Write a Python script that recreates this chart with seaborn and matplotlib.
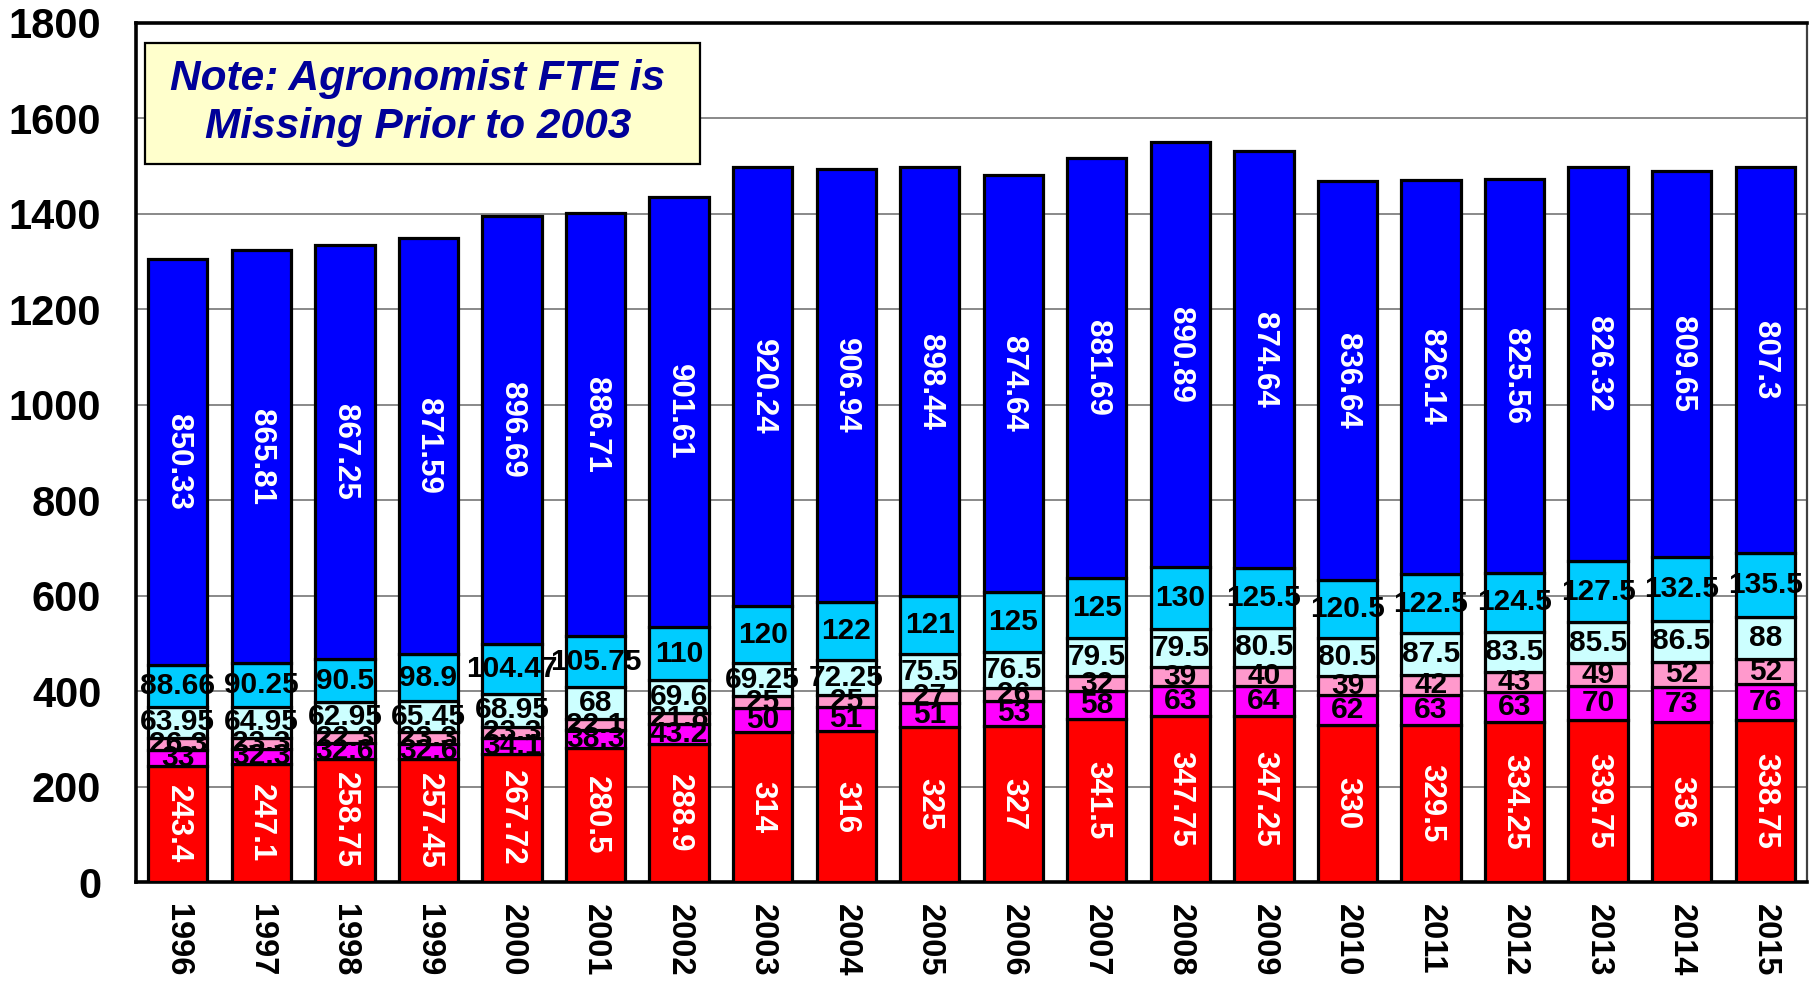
import numpy as np
import pandas as pd
import matplotlib
matplotlib.use("Agg")
import matplotlib.pyplot as plt
from matplotlib.patches import Rectangle
import seaborn as sns

# Yearly FTE by staff category (stack order: bottom to top)
years = ["1996", "1997", "1998", "1999", "2000", "2001", "2002", "2003", "2004", "2005",
         "2006", "2007", "2008", "2009", "2010", "2011", "2012", "2013", "2014", "2015"]
seg_red = [243.4, 247.1, 258.75, 257.45, 267.72, 280.5, 288.9, 314, 316, 325,
           327, 341.5, 347.75, 347.25, 330, 329.5, 334.25, 339.75, 336, 338.75]
seg_magenta = [33, 32.3, 32.6, 32.6, 34.1, 38.3, 43.2, 50, 51, 51,
               53, 58, 63, 64, 62, 63, 63, 70, 73, 76]
seg_pink = [26.3, 23.3, 22.3, 23.3, 23.3, 22.1, 21.8, 25, 25, 27,
            26, 32, 39, 40, 39, 42, 43, 49, 52, 52]
seg_lightcyan = [63.95, 64.95, 62.95, 65.45, 68.95, 68, 69.6, 69.25, 72.25, 75.5,
                 76.5, 79.5, 79.5, 80.5, 80.5, 87.5, 83.5, 85.5, 86.5, 88]
seg_cyan = [88.66, 90.25, 90.5, 98.9, 104.47, 105.75, 110, 120, 122, 121,
            125, 125, 130, 125.5, 120.5, 122.5, 124.5, 127.5, 132.5, 135.5]
seg_blue = [850.33, 865.81, 867.25, 871.59, 896.69, 886.71, 901.61, 920.24, 906.94, 898.44,
            874.64, 881.69, 890.89, 874.64, 836.64, 826.14, 825.56, 826.32, 809.65, 807.3]

y_ticks = [0, 200, 400, 600, 800, 1000, 1200, 1400, 1600, 1800]
note_text = "Note: Agronomist FTE is\nMissing Prior to 2003"

series = [
    (seg_red, "#FF0000", "white", -90),
    (seg_magenta, "#FF00FF", "black", 0),
    (seg_pink, "#FF99CC", "black", 0),
    (seg_lightcyan, "#CCFFFF", "black", 0),
    (seg_cyan, "#00CCFF", "black", 0),
    (seg_blue, "#0000FF", "white", -90),
]

sns.set_theme(style="white")
plt.rcParams["font.family"] = ["Liberation Sans", "DejaVu Sans"]
plt.rcParams["font.weight"] = "bold"
plt.rcParams["text.color"] = "black"
plt.rcParams["xtick.color"] = "black"
plt.rcParams["ytick.color"] = "black"

fig = plt.figure(figsize=(18.19, 9.81), dpi=100)
ax = fig.add_axes([136 / 1819, 1 - 882 / 981, (1807 - 136) / 1819, (882 - 23) / 981])

x_pos = np.arange(len(years))
bottom = np.zeros(len(years))
for values, color, txt_color, rot in series:
    vals = np.array(values, dtype=float)
    df = pd.DataFrame({"year": years, "fte": vals})
    sns.barplot(data=df, x="year", y="fte", order=years, bottom=bottom,
                color=color, saturation=1, width=0.71, edgecolor="black",
                linewidth=2.3, ax=ax, zorder=3)
    for i, v in enumerate(vals):
        label = f"{v:g}"
        cy = bottom[i] + v / 2
        if rot:
            ax.text(x_pos[i], cy, label, color=txt_color, rotation=rot,
                    ha="center", va="center", fontsize=22.5, fontweight="bold",
                    zorder=5, rotation_mode="anchor")
        else:
            ax.text(x_pos[i], cy, label, color=txt_color, ha="center",
                    va="center", fontsize=21.5, fontweight="bold", zorder=5)
    bottom = bottom + vals

ax.set_xlim(-0.5, len(years) - 0.5)
ax.set_ylim(0, 1800)
ax.set_yticks(y_ticks)
ax.set_yticklabels([str(t) for t in y_ticks], fontsize=30, fontweight="bold",
                   color="black")
ax.tick_params(axis="y", length=0, pad=25)

ax.set_xticks(x_pos)
ax.set_xticklabels(years, rotation=-90, fontsize=23.5, fontweight="bold",
                   color="black")
ax.tick_params(axis="x", which="major", direction="in", length=6.5, width=1,
               color="#404040", pad=16)
ax.set_xticks(np.arange(-0.5, len(years), 1.0), minor=True)
ax.tick_params(axis="x", which="minor", direction="out", length=7, width=1,
               color="#404040")
for lbl in ax.get_xticklabels():
    lbl.set_va("top")
    lbl.set_ha("center")

ax.set_xlabel("")
ax.set_ylabel("")
ax.grid(axis="y", color="#808080", linewidth=1.3, zorder=0)
ax.grid(axis="x", visible=False)
ax.set_axisbelow(True)

for side in ("left", "bottom", "top"):
    ax.spines[side].set_color("black")
    ax.spines[side].set_linewidth(2.6)
ax.spines["right"].set_color("#404040")
ax.spines["right"].set_linewidth(1.6)

# Note box in the upper left of the plot
box = Rectangle((145 / 1819, 1 - 164 / 981), 555 / 1819, 121 / 981,
                transform=fig.transFigure, facecolor="#FFFFCC",
                edgecolor="black", linewidth=1.6, zorder=6, clip_on=False)
ax.add_patch(box)
ax.text(418 / 1819, 1 - 103 / 981, note_text, transform=fig.transFigure,
        ha="center", va="center", fontsize=30.5, fontweight="bold",
        fontstyle="italic", color="#000099", linespacing=1.25, zorder=7)

fig.savefig("out.png", dpi=100)
